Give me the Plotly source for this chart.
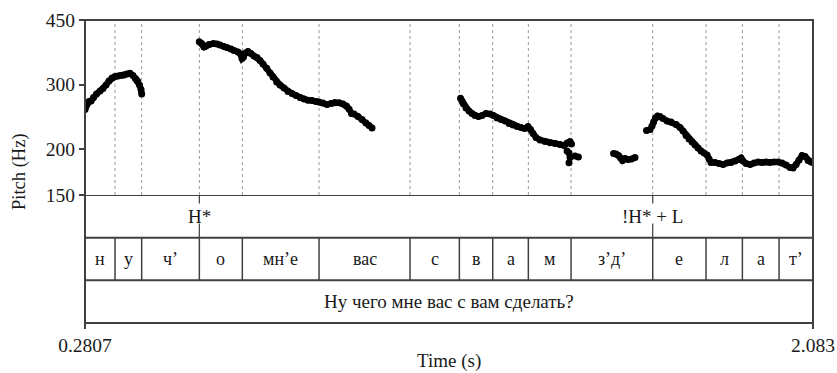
import math
import plotly.graph_objects as go

# ---------------- data ----------------
t_start, t_end = 0.2807, 2.083

# pitch contour (time s, pitch Hz), voiced stretches
seg1_t = [0.2807, 0.2857, 0.2906, 0.2956, 0.3017, 0.3092, 0.3178, 0.3253, 0.3327, 0.3401, 0.3475,
          0.3550, 0.3624, 0.3698, 0.3773, 0.3847, 0.3921, 0.3995, 0.4057, 0.4107, 0.4156, 0.4194, 0.4211]
seg1_f = [256.5, 265.5, 269.8, 270.6, 276.6, 282.8, 288.1, 292.7, 299.3, 306.8, 312.6,
          315.6, 316.6, 317.6, 318.6, 320.6, 322.0, 317.6, 311.7, 306.8, 299.3, 290.9, 282.8]

seg2_t = [0.5637, 0.5696, 0.5753, 0.5803, 0.5877, 0.5984, 0.6075, 0.6149, 0.6249, 0.6323, 0.6422,
          0.6496, 0.6595, 0.6657, 0.6694, 0.6731, 0.6781, 0.6843, 0.6917, 0.6991, 0.7066, 0.7140,
          0.7214, 0.7306, 0.7387, 0.7462, 0.7553, 0.7635, 0.7734, 0.7833, 0.7932, 0.8031, 0.8130,
          0.8229, 0.8328, 0.8427, 0.8526, 0.8601, 0.8700, 0.8799, 0.8898, 0.8997, 0.9096, 0.9195,
          0.9281, 0.9343, 0.9405, 0.9467, 0.9566, 0.9665, 0.9764, 0.9839, 0.9913]
seg2_f = [392.7, 388.3, 379.8, 382.2, 385.8, 388.3, 387.0, 384.7, 381.0, 378.6, 375.1,
          371.6, 368.1, 363.5, 353.4, 356.7, 365.8, 369.2, 364.7, 359.0, 355.6, 349.0,
          341.4, 332.3, 322.7, 314.7, 304.9, 299.3, 293.7, 287.3, 283.7, 280.1, 276.6,
          274.1, 271.8, 271.5, 269.8, 268.9, 267.2, 264.8, 266.4, 268.1, 267.6, 265.6,
          262.3, 257.4, 250.2, 249.4, 245.5, 241.0, 235.7, 232.1, 228.5]

seg3_t = [1.2104, 1.2141, 1.2178, 1.2240, 1.2315, 1.2389, 1.2463, 1.2550, 1.2636, 1.2735, 1.2834,
          1.2921, 1.3008, 1.3107, 1.3206, 1.3305, 1.3404, 1.3503, 1.3602, 1.3689, 1.3775, 1.3837,
          1.3899, 1.3973, 1.4072, 1.4196, 1.4320, 1.4444, 1.4568, 1.4667, 1.4741, 1.4815]
seg3_f = [275.2, 270.6, 265.5, 259.0, 254.1, 250.1, 247.0, 245.5, 247.0, 250.1, 249.4,
          247.0, 243.2, 240.9, 238.7, 235.0, 232.8, 230.6, 229.2, 227.7, 230.6, 226.3,
          220.7, 215.2, 211.9, 209.9, 208.3, 207.3, 206.0, 204.7, 207.9, 209.9]

# scattered points at the end of the third stretch
scat_t = [1.4852, 1.4741, 1.4790, 1.4815, 1.4939, 1.5021, 1.4790]
scat_f = [206.6, 197.8, 195.3, 189.8, 191.6, 190.4, 183.8]

seg4_t = [1.5892, 1.5954, 1.6016, 1.6066, 1.6115, 1.6177, 1.6251, 1.6338, 1.6424]
seg4_f = [194.7, 194.1, 192.2, 189.3, 186.3, 188.7, 187.5, 188.1, 189.8]

seg5_t = [1.6709, 1.6796, 1.6845, 1.6883, 1.6932, 1.6982, 1.7043, 1.7118, 1.7217, 1.7316, 1.7440,
          1.7539, 1.7613, 1.7687, 1.7761, 1.7836, 1.7910, 1.7984, 1.8059, 1.8133, 1.8207, 1.8257,
          1.8306, 1.8405, 1.8504, 1.8603, 1.8702, 1.8801, 1.8900, 1.8987, 1.9049, 1.9098, 1.9173,
          1.9272, 1.9371, 1.9470, 1.9569, 1.9668, 1.9767, 1.9866, 1.9965, 2.0064, 2.0163, 2.0262,
          2.0336, 2.0411, 2.0485, 2.0559, 2.0633, 2.0708, 2.0782, 2.0831]
seg5_f = [224.9, 226.3, 231.3, 237.2, 243.2, 246.2, 245.5, 242.4, 238.7, 237.2, 233.5,
          229.2, 224.2, 218.0, 213.2, 209.3, 205.4, 201.5, 197.8, 195.3, 192.9, 188.1,
          184.0, 184.0, 182.8, 181.7, 183.4, 184.0, 185.7, 187.5, 189.3, 185.7, 182.8,
          181.7, 183.4, 184.6, 184.0, 184.6, 184.0, 184.6, 184.6, 183.4, 181.1, 178.3,
          177.7, 181.7, 186.9, 192.2, 191.0, 186.3, 184.6, 184.0]

# segment tier
seg_bounds = [0.3550, 0.4210, 0.5638, 0.6702, 0.8601, 1.0854, 1.2075, 1.2901, 1.3783,
              1.4840, 1.6862, 1.8182, 1.9082, 1.9990]
seg_labels = ["н", "у", "ч’", "о", "мн’е", "вас", "с", "в", "а", "м", "з’д’", "е", "л", "а", "т’"]

# tone tier
tone_times = [0.5638, 1.6862]
tone_labels = ["H*", "!H* + L"]

sentence = "Ну чего мне вас с вам сделать?"

y_ticks = [150, 200, 300, 450]
y_range = [150, 450]

# ---------------- figure ----------------
FONT = "Liberation Serif, Times New Roman, serif"
TXT = "#1a1a1a"
LINE = "#404040"

fig = go.Figure()

def add_stretch(ts, fs):
    fig.add_trace(go.Scatter(x=ts, y=fs, mode="lines+markers",
                             line=dict(color="black", width=6),
                             marker=dict(color="black", size=7),
                             hoverinfo="skip", showlegend=False))

for ts, fs in [(seg1_t, seg1_f), (seg2_t, seg2_f), (seg3_t, seg3_f), (seg4_t, seg4_f), (seg5_t, seg5_f)]:
    add_stretch(ts, fs)

fig.add_trace(go.Scatter(x=scat_t, y=scat_f, mode="markers",
                         marker=dict(color="black", size=7),
                         hoverinfo="skip", showlegend=False))

split = 0.4224

shapes = []
for b in seg_bounds:
    shapes.append(dict(type="line", xref="x", yref="y domain", x0=b, x1=b, y0=0, y1=1,
                       line=dict(color="#9a9a9a", width=1, dash="dot"), layer="below"))
for b in seg_bounds:
    shapes.append(dict(type="line", xref="x", yref="y2", x0=b, x1=b, y0=1, y1=2,
                       line=dict(color=LINE, width=1.5)))
for t in tone_times:
    shapes.append(dict(type="line", xref="x", yref="y2", x0=t, x1=t, y0=0, y1=0.2,
                       line=dict(color=LINE, width=1.2)))
    shapes.append(dict(type="line", xref="x", yref="y2", x0=t, x1=t, y0=0.67, y1=1,
                       line=dict(color=LINE, width=1.2)))
for yv in [0, 1, 2]:
    shapes.append(dict(type="line", xref="paper", yref="y2", x0=0, x1=1, y0=yv, y1=yv,
                       line=dict(color=LINE, width=2)))
shapes.append(dict(type="rect", xref="paper", yref="paper", x0=0, x1=1, y0=0, y1=1,
                   line=dict(color=LINE, width=2)))

annotations = []
edges = [t_start] + seg_bounds + [t_end]
for i, lab in enumerate(seg_labels):
    annotations.append(dict(x=(edges[i] + edges[i + 1]) / 2, y=1.5, xref="x", yref="y2",
                            text=lab, showarrow=False, font=dict(family=FONT, size=18, color=TXT)))
for t, lab in zip(tone_times, tone_labels):
    annotations.append(dict(x=t, y=0.5, xref="x", yref="y2", text=lab, showarrow=False,
                            font=dict(family=FONT, size=19, color=TXT)))
annotations.append(dict(x=(t_start + t_end) / 2, y=2.5, xref="x", yref="y2", text=sentence,
                        showarrow=False, font=dict(family=FONT, size=19, color=TXT)))
annotations.append(dict(x=0.5, y=-0.127, xref="paper", yref="paper", text="Time (s)",
                        showarrow=False, yanchor="middle",
                        font=dict(family=FONT, size=19, color=TXT)))
annotations.append(dict(x=-0.090, y=0.5, xref="paper", yref="paper", text="Pitch (Hz)",
                        showarrow=False, textangle=-90, xanchor="center", yanchor="middle",
                        font=dict(family=FONT, size=18.5, color=TXT)))

fig.update_layout(
    width=837, height=373,
    margin=dict(l=85, r=24, t=20, b=50, autoexpand=False),
    paper_bgcolor="white", plot_bgcolor="white",
    xaxis=dict(domain=[0, 1], range=[t_start, t_end], anchor="y2", automargin=False,
               tickvals=[t_start, t_end], ticktext=["0.2807", "2.083"],
               ticks="outside", ticklen=5, tickcolor=LINE, tickwidth=1.5,
               showgrid=False, zeroline=False, showline=False,
               tickfont=dict(family=FONT, size=19.5, color=TXT)),
    yaxis=dict(domain=[split, 1], type="log", automargin=False,
               range=[math.log10(y_range[0]), math.log10(y_range[1])], anchor="x",
               tickvals=y_ticks, ticktext=[str(v) for v in y_ticks],
               ticks="outside", ticklen=5, tickcolor=LINE, tickwidth=1.5,
               showgrid=False, zeroline=False, showline=False,
               tickfont=dict(family=FONT, size=19.5, color=TXT)),
    yaxis2=dict(domain=[0, split], range=[3, 0], anchor="x", visible=False),
    shapes=shapes, annotations=annotations,
)

fig.write_html("out.html", config={"displayModeBar": False},
               post_script="document.body.style.margin='0';document.body.style.overflow='hidden';")
